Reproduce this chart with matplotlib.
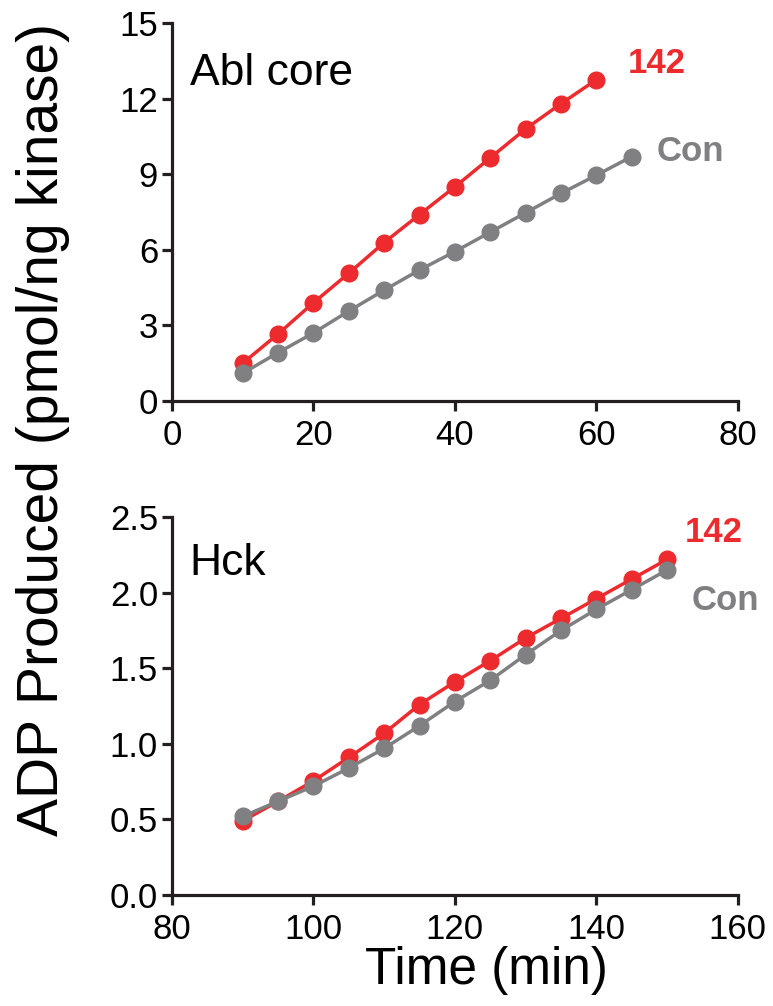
import matplotlib
matplotlib.use("Agg")
import matplotlib.pyplot as plt

plt.rcParams['font.family'] = ['Liberation Sans', 'DejaVu Sans']

# Abl core
abl_time_142 = [10, 15, 20, 25, 30, 35, 40, 45, 50, 55, 60]
abl_142 = [1.5, 2.66, 3.9, 5.07, 6.29, 7.4, 8.5, 9.65, 10.8, 11.8, 12.75]
abl_time_con = [10, 15, 20, 25, 30, 35, 40, 45, 50, 55, 60, 65]
abl_con = [1.1, 1.92, 2.7, 3.57, 4.4, 5.2, 5.93, 6.7, 7.47, 8.24, 8.96, 9.7]

# Hck
hck_time = [90, 95, 100, 105, 110, 115, 120, 125, 130, 135, 140, 145, 150]
hck_142 = [0.49, 0.62, 0.755, 0.91, 1.07, 1.26, 1.41, 1.55, 1.70, 1.83, 1.96, 2.09, 2.22]
hck_con = [0.52, 0.62, 0.72, 0.84, 0.97, 1.12, 1.28, 1.42, 1.59, 1.75, 1.89, 2.02, 2.15]

RED = "#ED2B2E"
GRAY = "#808083"
INK = "#231F20"

fig = plt.figure(figsize=(7.73, 10.06), dpi=100)


def style(ax):
    for s in ["top", "right"]:
        ax.spines[s].set_visible(False)
    for s in ["left", "bottom"]:
        ax.spines[s].set_linewidth(2.3)
        ax.spines[s].set_color(INK)
    ax.tick_params(axis="both", length=7, width=2.3, color=INK, labelsize=25)
    ax.tick_params(axis="x", pad=6)
    ax.tick_params(axis="y", pad=3)


#---------------------------------
ax = fig.add_axes([0.2225, 0.6014, 0.732, 0.3757])
ax.plot(abl_time_142, abl_142, "-o", color=RED, lw=2.5, ms=12, clip_on=False)
ax.plot(abl_time_con, abl_con, "-o", color=GRAY, lw=2.5, ms=12, clip_on=False)
ax.set_xlim(0, 80)
ax.set_ylim(0, 15)
ax.set_xticks([0, 20, 40, 60, 80])
ax.set_yticks([0, 3, 6, 9, 12, 15])
style(ax)
ax.text(2.5, 13.0, "Abl core", fontsize=32, va="center", ha="left")
ax.text(64.5, 13.4, "142", fontsize=25, fontweight="bold", color=RED, va="center")
ax.text(68.5, 9.9, "Con", fontsize=25, fontweight="bold", color=GRAY, va="center")

#---------------------------------
ax = fig.add_axes([0.2225, 0.1103, 0.732, 0.3757])
ax.plot(hck_time, hck_142, "-o", color=RED, lw=2.5, ms=12, clip_on=False)
ax.plot(hck_time, hck_con, "-o", color=GRAY, lw=2.5, ms=12, clip_on=False)
ax.set_xlim(80, 160)
ax.set_ylim(0, 2.5)
ax.set_xticks([80, 100, 120, 140, 160])
ax.set_yticks([0, 0.5, 1.0, 1.5, 2.0, 2.5])
ax.set_yticklabels(["0.0", "0.5", "1.0", "1.5", "2.0", "2.5"])
style(ax)
ax.text(82.5, 2.19, "Hck", fontsize=32, va="center", ha="left")
ax.text(152.5, 2.40, "142", fontsize=25, fontweight="bold", color=RED, va="center")
ax.text(153.5, 1.95, "Con", fontsize=25, fontweight="bold", color=GRAY, va="center")
ax.set_xlabel("Time (min)", fontsize=37)
ax.xaxis.set_label_coords(0.555, -0.135)

fig.text(0.055, 0.573, "ADP Produced (pmol/ng kinase)", fontsize=41,
         rotation=90, va="center", ha="center")

fig.savefig("out.png", dpi=100)
